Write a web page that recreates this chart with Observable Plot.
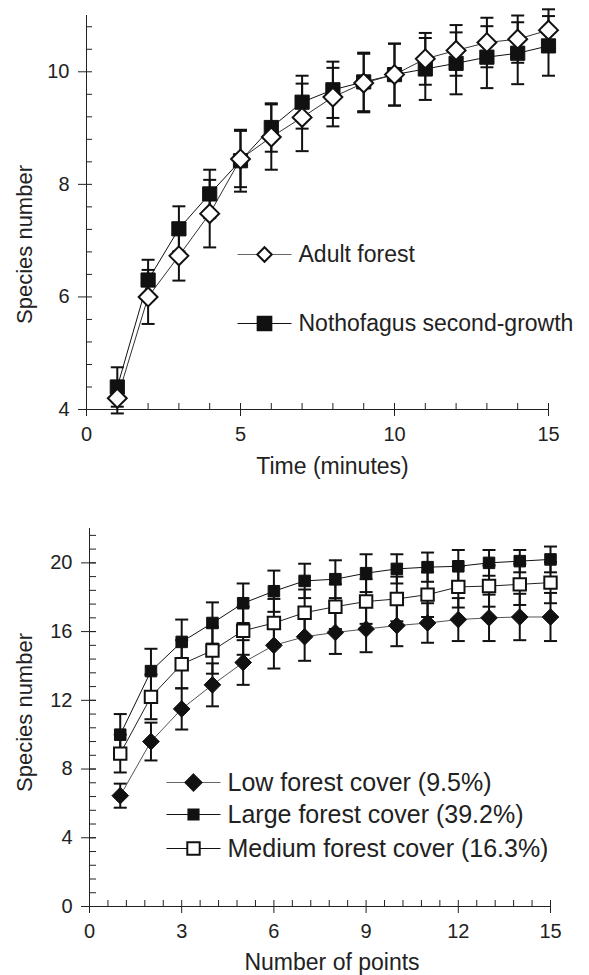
<!DOCTYPE html>
<html>
<head>
<meta charset="utf-8">
<script src="https://cdn.jsdelivr.net/npm/d3@7"></script>
<script src="https://cdn.jsdelivr.net/npm/@observablehq/plot@0.6"></script>
<style>
  body { margin: 0; background: #fff; }
  #chart svg { display: block; }
</style>
</head>
<body>
<div id="chart"></div>
<script>
// ---------- Data: top panel (species vs time) ----------
const time = [1, 2, 3, 4, 5, 6, 7, 8, 9, 10, 11, 12, 13, 14, 15];
const adultForest   = [4.2, 6.0, 6.73, 7.48, 8.45, 8.84, 9.19, 9.55, 9.8, 9.95, 10.23, 10.38, 10.52, 10.58, 10.74];
const adultForestSE = [0.27, 0.48, 0.44, 0.6, 0.5, 0.58, 0.6, 0.52, 0.52, 0.55, 0.46, 0.45, 0.44, 0.42, 0.37];
const nothofagus    = [4.4, 6.3, 7.21, 7.83, 8.42, 9.01, 9.46, 9.68, 9.82, 9.95, 10.05, 10.15, 10.26, 10.33, 10.46];
const nothofagusSE  = [0.35, 0.36, 0.4, 0.43, 0.55, 0.43, 0.47, 0.5, 0.52, 0.55, 0.55, 0.55, 0.55, 0.55, 0.53];

// ---------- Data: bottom panel (species vs number of points) ----------
const points = [1, 2, 3, 4, 5, 6, 7, 8, 9, 10, 11, 12, 13, 14, 15];
const lowCover      = [6.45, 9.6, 11.5, 12.9, 14.2, 15.2, 15.7, 15.95, 16.15, 16.35, 16.5, 16.7, 16.8, 16.85, 16.85];
const lowCoverSE    = [0.7, 1.1, 1.2, 1.25, 1.3, 1.35, 1.4, 1.25, 1.35, 1.2, 1.15, 1.25, 1.35, 1.35, 1.4];
const largeCover    = [10.0, 13.7, 15.4, 16.5, 17.65, 18.35, 18.95, 19.05, 19.4, 19.65, 19.75, 19.8, 20.0, 20.1, 20.2];
const largeCoverSE  = [1.2, 1.3, 1.3, 1.2, 1.15, 1.2, 1.0, 1.1, 1.1, 0.85, 0.85, 0.95, 0.75, 0.65, 0.75];
const mediumCover   = [8.9, 12.2, 14.1, 14.9, 16.05, 16.5, 17.1, 17.45, 17.75, 17.9, 18.15, 18.6, 18.65, 18.75, 18.85];
const mediumCoverSE = [1.1, 1.3, 1.4, 1.35, 1.4, 1.4, 1.35, 1.3, 1.3, 1.3, 1.3, 1.2, 1.2, 1.2, 1.2];

// ---------- Tick labels & texts ----------
const timeTicks = [0, 5, 10, 15];
const speciesTicksTop = [4, 6, 8, 10];
const pointTicks = [0, 3, 6, 9, 12, 15];
const speciesTicksBottom = [0, 4, 8, 12, 16, 20];
const legendTop = ["Adult forest", "Nothofagus second-growth"];
const legendBottom = ["Low forest cover (9.5%)", "Large forest cover (39.2%)", "Medium forest cover (16.3%)"];
const titlesTop = {x: "Time (minutes)", y: "Species number"};
const titlesBottom = {x: "Number of points", y: "Species number"};

// ---------- helpers ----------
const FONT = "'Liberation Sans', Arial, Helvetica, sans-serif";
const INK = "#111";
const AX = "#222";
const fmt = d => String(d);
function hLine(half) {
  return { draw(ctx) { ctx.moveTo(-half, 0); ctx.lineTo(half, 0); } };
}
const cap = hLine(6.5);
function rows(xs, ys, es) { return xs.map((x, i) => ({x, y: ys[i], se: es[i]})); }
function errorMarks(data) {
  return [
    Plot.ruleX(data, {x: "x", y1: d => d.y - d.se, y2: d => d.y + d.se, stroke: INK, strokeWidth: 2}),
    Plot.dot(data, {x: "x", y: d => d.y + d.se, symbol: cap, r: 5, stroke: INK, strokeWidth: 2, fill: "none"}),
    Plot.dot(data, {x: "x", y: d => d.y - d.se, symbol: cap, r: 5, stroke: INK, strokeWidth: 2, fill: "none"})
  ];
}
function legendEntry(label, dx, dy, symbolOpts, lineColor, fontSize) {
  return [
    Plot.dot([label], {frameAnchor: "top-left", dx, dy, symbol: hLine(27), r: 5, stroke: lineColor, strokeWidth: 1, fill: "none"}),
    Plot.dot([label], {frameAnchor: "top-left", dx, dy, ...symbolOpts}),
    Plot.text([label], {frameAnchor: "top-left", dx: dx + 34, dy, text: d => d, textAnchor: "start", lineAnchor: "middle", fontSize, fill: "#222"})
  ];
}

// ---------- Top chart ----------
{
  const W = 589, H = 480, mL = 86, mR = 41, mT = 15, mB = 71;
  const fw = W - mL - mR, fh = H - mT - mB;
  const adult = rows(time, adultForest, adultForestSE);
  const noth = rows(time, nothofagus, nothofagusSE);
  const minorY = d3.range(4, 11.01, 0.4).map(v => +v.toFixed(2));
  const minorX = d3.range(0, 15.01, 1);
  const chart = Plot.plot({
    width: W, height: H, marginLeft: mL, marginRight: mR, marginTop: mT, marginBottom: mB,
    x: {domain: [0, 15]},
    y: {domain: [4, 11]},
    style: {fontFamily: FONT, color: "#222", background: "#fff", overflow: "visible"},
    marks: [
      Plot.ruleX([0], {stroke: AX}),
      Plot.ruleY([4], {stroke: AX}),
      Plot.axisY({ticks: speciesTicksTop, tickFormat: fmt, tickSize: 8, tickPadding: 9, fontSize: 20, label: null, stroke: AX}),
      Plot.tickY(minorY, {insetRight: fw - 6, stroke: AX}),
      Plot.axisX({ticks: timeTicks, tickFormat: fmt, tickSize: 7, tickPadding: 10, fontSize: 20, label: null, stroke: AX}),
      Plot.tickX(minorX, {insetTop: fh - 6, stroke: AX}),
      Plot.text([titlesTop.x], {frameAnchor: "bottom", dx: 15, dy: 57, text: d => d, lineAnchor: "middle", fontSize: 23, fill: "#222"}),
      Plot.text([titlesTop.y], {frameAnchor: "top-left", dx: -62, dy: 229, rotate: -90, text: d => d, textAnchor: "middle", lineAnchor: "middle", fontSize: 22, fill: "#222"}),
      ...errorMarks(noth),
      ...errorMarks(adult),
      Plot.line(noth, {x: "x", y: "y", stroke: INK, strokeWidth: 1}),
      Plot.line(adult, {x: "x", y: "y", stroke: "#333", strokeWidth: 1}),
      Plot.dot(noth, {x: "x", y: "y", symbol: "square", r: 8, fill: INK, stroke: INK, strokeWidth: 1}),
      Plot.dot(adult, {x: "x", y: "y", symbol: "diamond2", r: 8.5, fill: "#fff", stroke: INK, strokeWidth: 2}),
      ...legendEntry(legendTop[0], 178, 239, {symbol: "diamond2", r: 6.5, fill: "#fff", stroke: INK, strokeWidth: 2}, "#666", 23),
      ...legendEntry(legendTop[1], 178, 308, {symbol: "square", r: 8, fill: INK, stroke: INK}, INK, 23)
    ]
  });
  document.getElementById("chart").append(chart);
}

// ---------- Bottom chart ----------
{
  const W = 589, H = 495, mL = 89, mR = 39, mT = 48, mB = 69;
  const fw = W - mL - mR, fh = H - mT - mB;
  const low = rows(points, lowCover, lowCoverSE);
  const large = rows(points, largeCover, largeCoverSE);
  const medium = rows(points, mediumCover, mediumCoverSE);
  const minorY = d3.range(0, 22.01, 0.8).map(v => +v.toFixed(2));
  const minorX = d3.range(0, 15.01, 0.6).map(v => +v.toFixed(2));
  const chart = Plot.plot({
    width: W, height: H, marginLeft: mL, marginRight: mR, marginTop: mT, marginBottom: mB,
    x: {domain: [0, 15]},
    y: {domain: [0, 22]},
    style: {fontFamily: FONT, color: "#222", background: "#fff", overflow: "visible"},
    marks: [
      Plot.ruleX([0], {stroke: AX}),
      Plot.ruleY([0], {stroke: AX}),
      Plot.axisY({ticks: speciesTicksBottom, tickFormat: fmt, tickSize: 8, tickPadding: 9, fontSize: 20, label: null, stroke: AX}),
      Plot.tickY(minorY, {insetRight: fw - 7, stroke: AX}),
      Plot.tickY(speciesTicksBottom, {insetRight: fw - 7, stroke: AX}),
      Plot.axisX({ticks: pointTicks, tickFormat: fmt, tickSize: 7, tickPadding: 10, fontSize: 20, label: null, stroke: AX}),
      Plot.tickX(minorX, {insetTop: fh - 6, stroke: AX}),
      Plot.text([titlesBottom.x], {frameAnchor: "bottom", dx: 12, dy: 56, text: d => d, lineAnchor: "middle", fontSize: 23, fill: "#222"}),
      Plot.text([titlesBottom.y], {frameAnchor: "top-left", dx: -65, dy: 184, rotate: -90, text: d => d, textAnchor: "middle", lineAnchor: "middle", fontSize: 22, fill: "#222"}),
      ...errorMarks(low),
      ...errorMarks(medium),
      ...errorMarks(large),
      Plot.line(low, {x: "x", y: "y", stroke: "#555", strokeWidth: 1}),
      Plot.line(medium, {x: "x", y: "y", stroke: "#222", strokeWidth: 1}),
      Plot.line(large, {x: "x", y: "y", stroke: INK, strokeWidth: 1}),
      Plot.dot(low, {x: "x", y: "y", symbol: "diamond2", r: 7.5, fill: INK, stroke: INK, strokeWidth: 1}),
      Plot.dot(medium, {x: "x", y: "y", symbol: "square", r: 7, fill: "#fff", stroke: INK, strokeWidth: 2}),
      Plot.dot(large, {x: "x", y: "y", symbol: "square", r: 6.5, fill: INK, stroke: INK, strokeWidth: 1}),
      ...legendEntry(legendBottom[0], 104, 254, {symbol: "diamond2", r: 7.5, fill: INK, stroke: INK}, "#666", 25),
      ...legendEntry(legendBottom[1], 104, 286, {symbol: "square", r: 6, fill: INK, stroke: INK}, INK, 25),
      ...legendEntry(legendBottom[2], 104, 320, {symbol: "square", r: 7, fill: "#fff", stroke: INK, strokeWidth: 2}, INK, 25)
    ]
  });
  document.getElementById("chart").append(chart);
}
</script>
</body>
</html>
